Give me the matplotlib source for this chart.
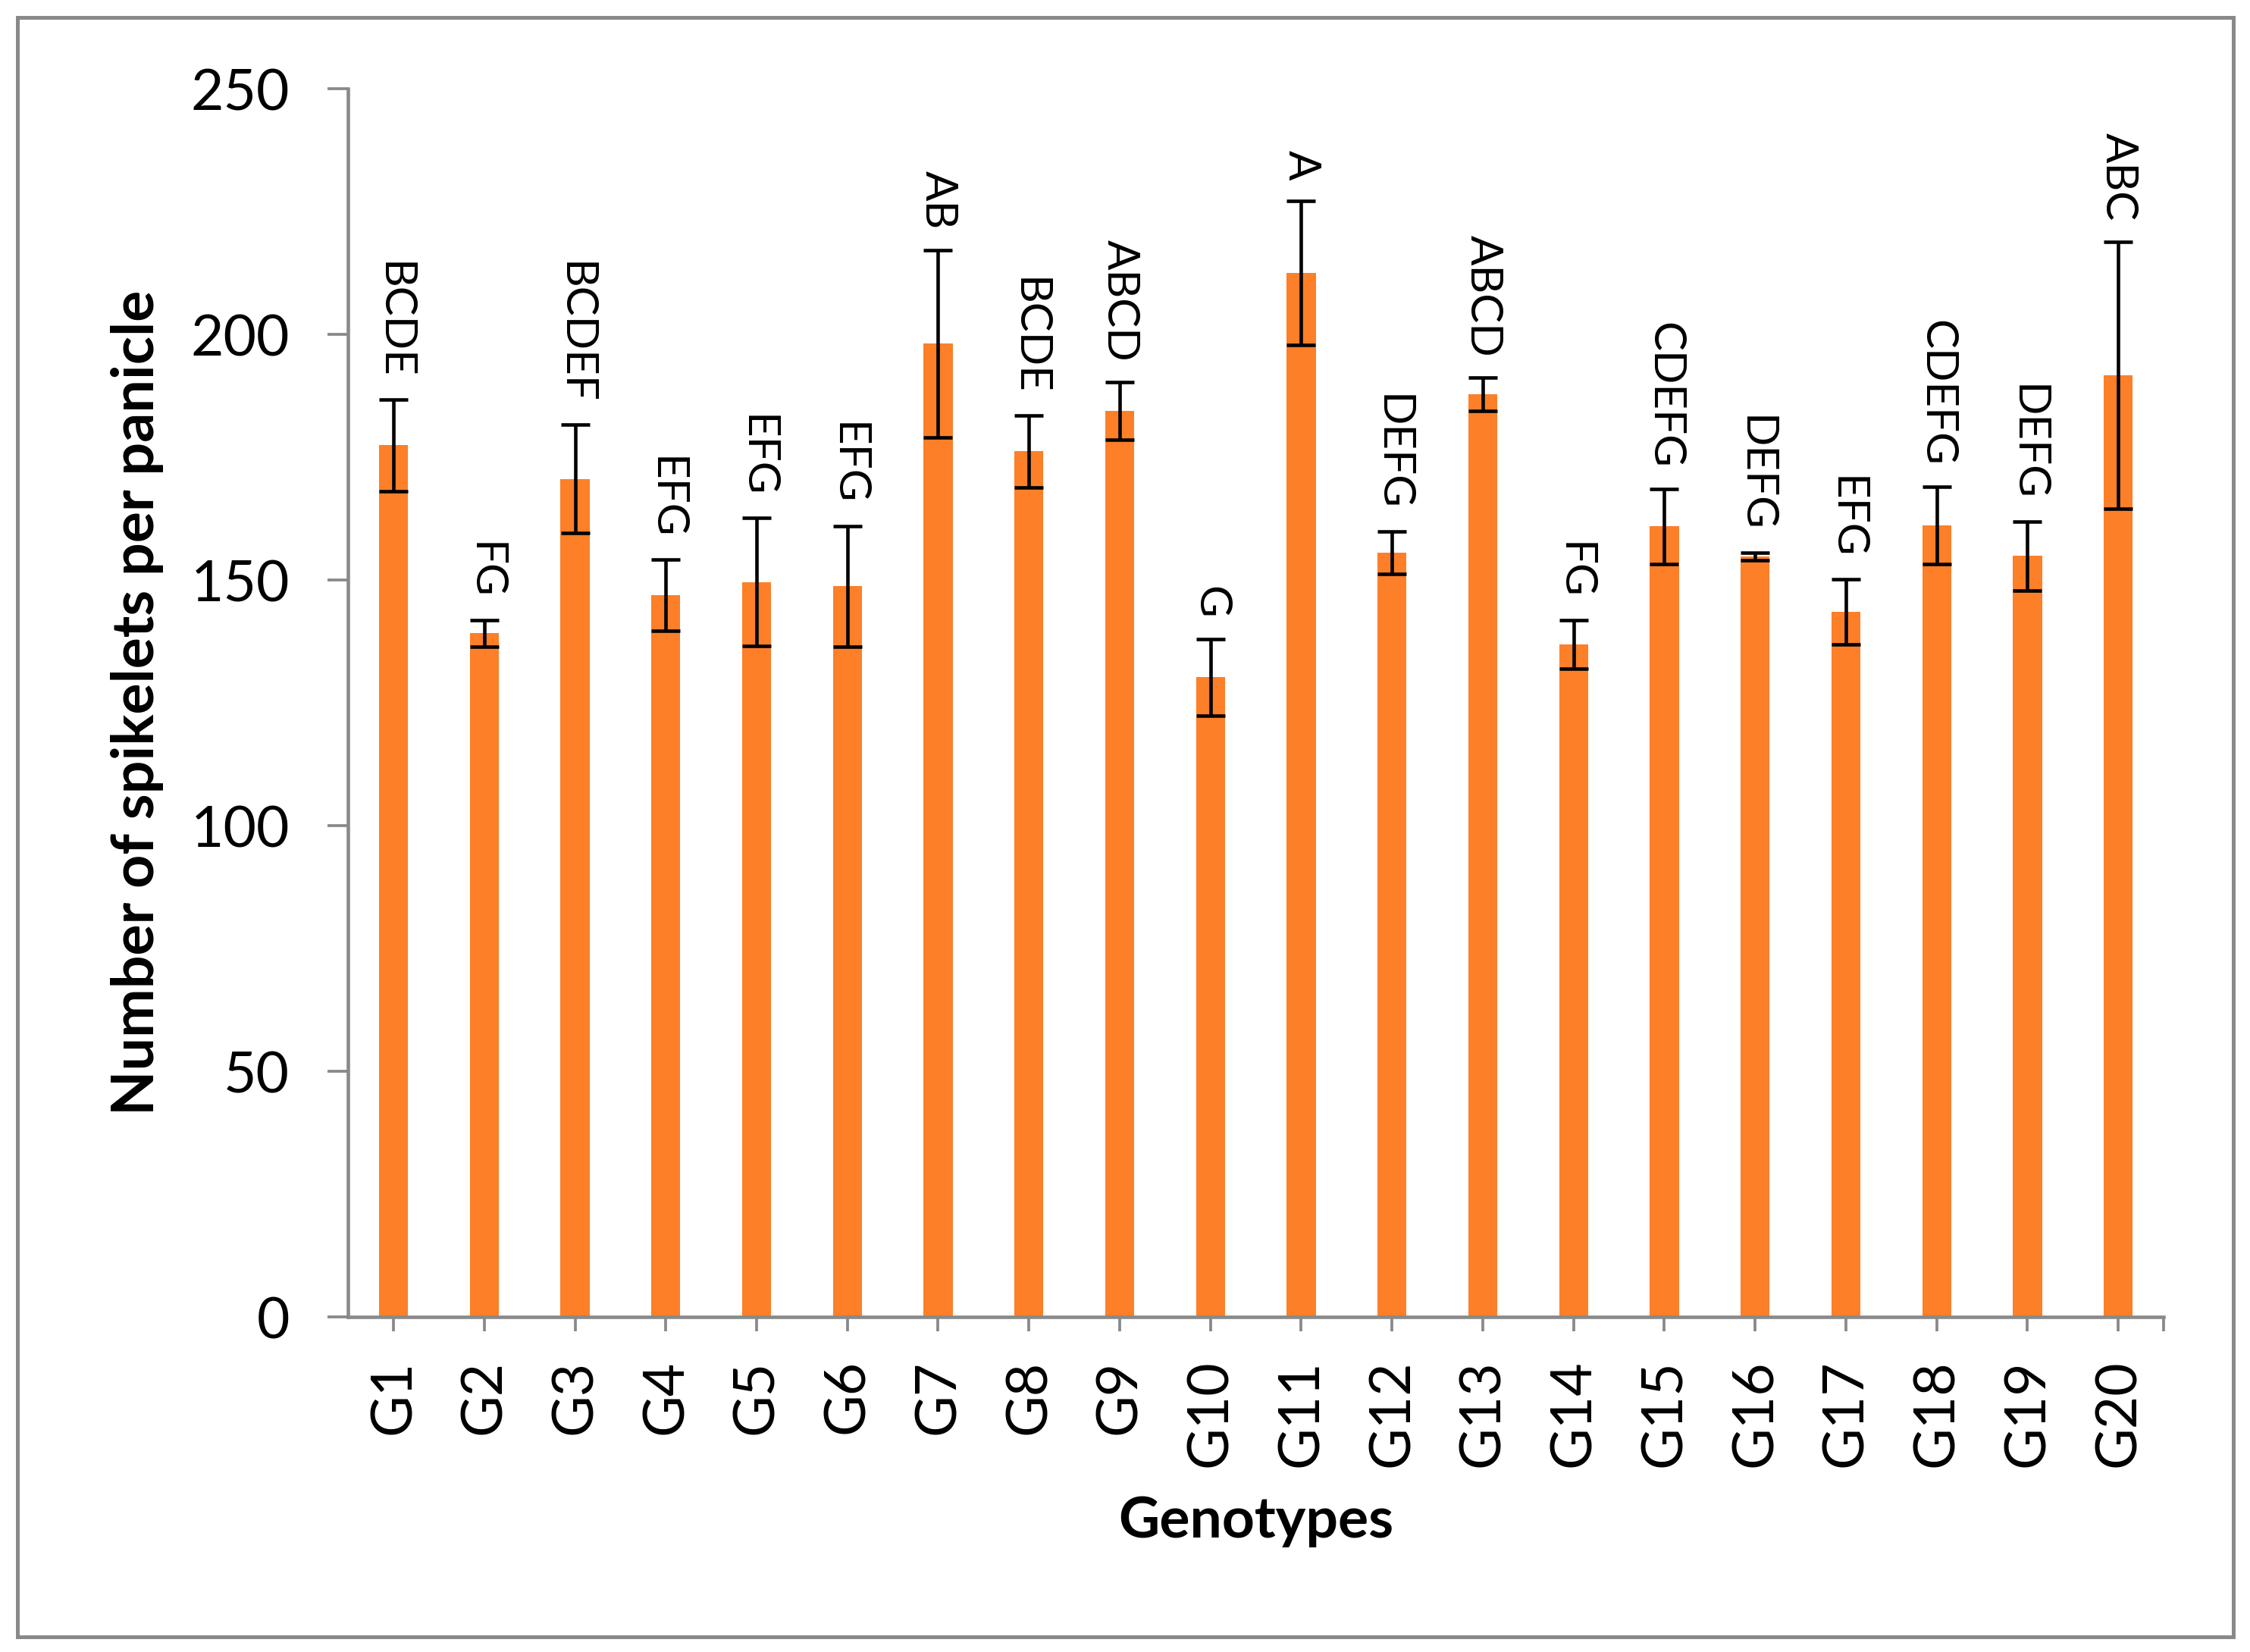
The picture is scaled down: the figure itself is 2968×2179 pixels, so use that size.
import matplotlib
matplotlib.use('Agg')
import matplotlib.pyplot as plt
from matplotlib.patches import Rectangle
import numpy as np

plt.rcParams['font.family'] = ['Lato', 'DejaVu Sans']

#
# data
#
genotypes = ['G%d' % i for i in range(1, 21)]
means = [177.4, 139.2, 170.6, 146.9, 149.6, 148.7, 198.1, 176.2, 184.4, 130.2,
         212.5, 155.6, 187.8, 136.9, 160.9, 154.8, 143.5, 161.1, 154.9, 191.7]
errors = [9.3, 2.7, 11.0, 7.2, 13.0, 12.3, 19.1, 7.3, 5.9, 7.8,
          14.7, 4.3, 3.4, 4.9, 7.6, 0.8, 6.6, 7.9, 7.0, 27.2]
letters = ['BCDE', 'FG', 'BCDEF', 'EFG', 'EFG', 'EFG', 'AB', 'BCDE', 'ABCD', 'G',
           'A', 'DEFG', 'ABCD', 'FG', 'CDEFG', 'DEFG', 'EFG', 'CDEFG', 'DEFG', 'ABC']
y_ticks = [0, 50, 100, 150, 200, 250]

bar_color = '#FD7F28'
axis_gray = '#898989'

#
# figure
#
fig = plt.figure(figsize=(2968 / 300, 2179 / 300), dpi=300)
ax = fig.add_axes([0.1547, 0.2028, 0.8069, 0.7435])

x = np.arange(len(genotypes))
ax.bar(x, means, width=0.32, color=bar_color, zorder=2)
ax.errorbar(x, means, yerr=errors, fmt='none', ecolor='black',
            elinewidth=1.1, capsize=4.6, capthick=1.1, zorder=3)

# significance letters above each error bar
for xi, m, e, lab in zip(x, means, errors, letters):
    ax.annotate(lab, xy=(xi, m + e), xytext=(0, 6.5), textcoords='offset points',
                rotation=270, rotation_mode='anchor', ha='right', va='center',
                fontsize=14, color='black', zorder=4)

ax.set_xlim(-0.5, len(genotypes) - 0.5)
ax.set_ylim(0, 250)
ax.set_yticks(y_ticks)
ax.set_xticks(x)
ax.set_xticklabels(genotypes, rotation=90)
ax.set_xticks([len(genotypes) - 0.5], minor=True)

for side in ['top', 'right']:
    ax.spines[side].set_visible(False)
for side in ['left', 'bottom']:
    ax.spines[side].set_color(axis_gray)
    ax.spines[side].set_linewidth(1.1)

ax.tick_params(axis='y', length=6.5, width=0.9, color=axis_gray, pad=12,
               labelsize=18)
ax.tick_params(axis='x', which='both', length=4.5, width=0.9, color=axis_gray,
               pad=9, labelsize=18)

ax.set_xlabel('Genotypes', fontsize=18, fontweight='bold')
ax.xaxis.set_label_coords(0.5, -0.145)
ax.set_ylabel('Number of spikelets per panicle', fontsize=18.5, fontweight='bold')
ax.yaxis.set_label_coords(-0.116, 0.5)
ax.yaxis.label.set_va('center')

# outer chart border
fig.patches.append(Rectangle((0.0078, 0.0092), 0.9848, 0.9802,
                             transform=fig.transFigure, fill=False,
                             edgecolor=axis_gray, linewidth=1.2))

fig.savefig('out.png', dpi=300, facecolor='white')
